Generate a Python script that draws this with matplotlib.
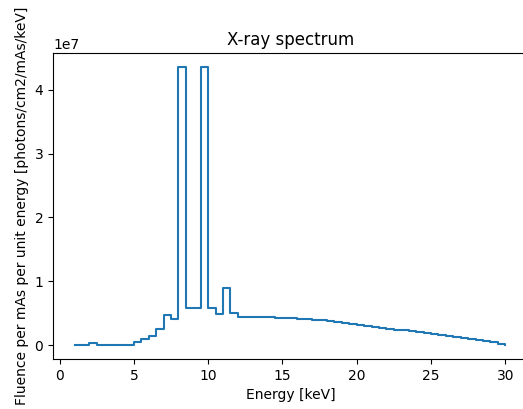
import numpy as np
import matplotlib
matplotlib.use("Agg")
import matplotlib.pyplot as plt

# energy bins (keV), lower edges, 0.5 keV wide
energy = np.arange(1.0, 30.01, 0.5)

# fluence per bin, in units of 1e6 photons/cm2/mAs/keV
fluence_e6 = [
    0.05, 0.05,                          # 1.0 - 2.0
    0.30,                                # 2.0
    0.05, 0.05, 0.05, 0.05, 0.05,        # 2.5 - 4.5
    0.50, 0.90, 1.50, 2.60, 4.70, 4.10,  # 5.0 - 7.5
    43.6,                                # 8.0  (L-alpha)
    5.80, 5.80,                          # 8.5 - 9.0
    43.6,                                # 9.5  (L-beta)
    5.80, 4.80,                          # 10.0 - 10.5
    8.90,                                # 11.0 (L-gamma)
    5.10,                                # 11.5
    4.35, 4.35, 4.35, 4.34, 4.33, 4.32, 4.30, 4.28,   # 12.0 - 15.5
    4.15, 4.05, 3.97, 3.88, 3.75, 3.60, 3.45, 3.30,   # 16.0 - 19.5
    3.15, 3.00, 2.88, 2.72, 2.58, 2.43, 2.30, 2.15,   # 20.0 - 23.5
    2.00, 1.85, 1.70, 1.55, 1.40, 1.25, 1.10, 0.93,   # 24.0 - 27.5
    0.77, 0.60, 0.42, 0.22, 0.00,                     # 28.0 - 30.0
]
fluence = np.array(fluence_e6) * 1e6

fig = plt.figure(figsize=(5.23, 4.09), dpi=100)
ax = fig.add_axes([53 / 523, 50 / 409, 476 / 523, 306 / 409])

ax.step(energy, fluence, where="post")
ax.set_title("X-ray spectrum")
ax.set_xlabel("Energy [keV]")
ax.set_ylabel("Fluence per mAs per unit energy [photons/cm2/mAs/keV]")
ax.set_xticks([0, 5, 10, 15, 20, 25, 30])
ax.set_xlim(-0.45, 31.6)

fig.savefig("out.png", dpi=100)
